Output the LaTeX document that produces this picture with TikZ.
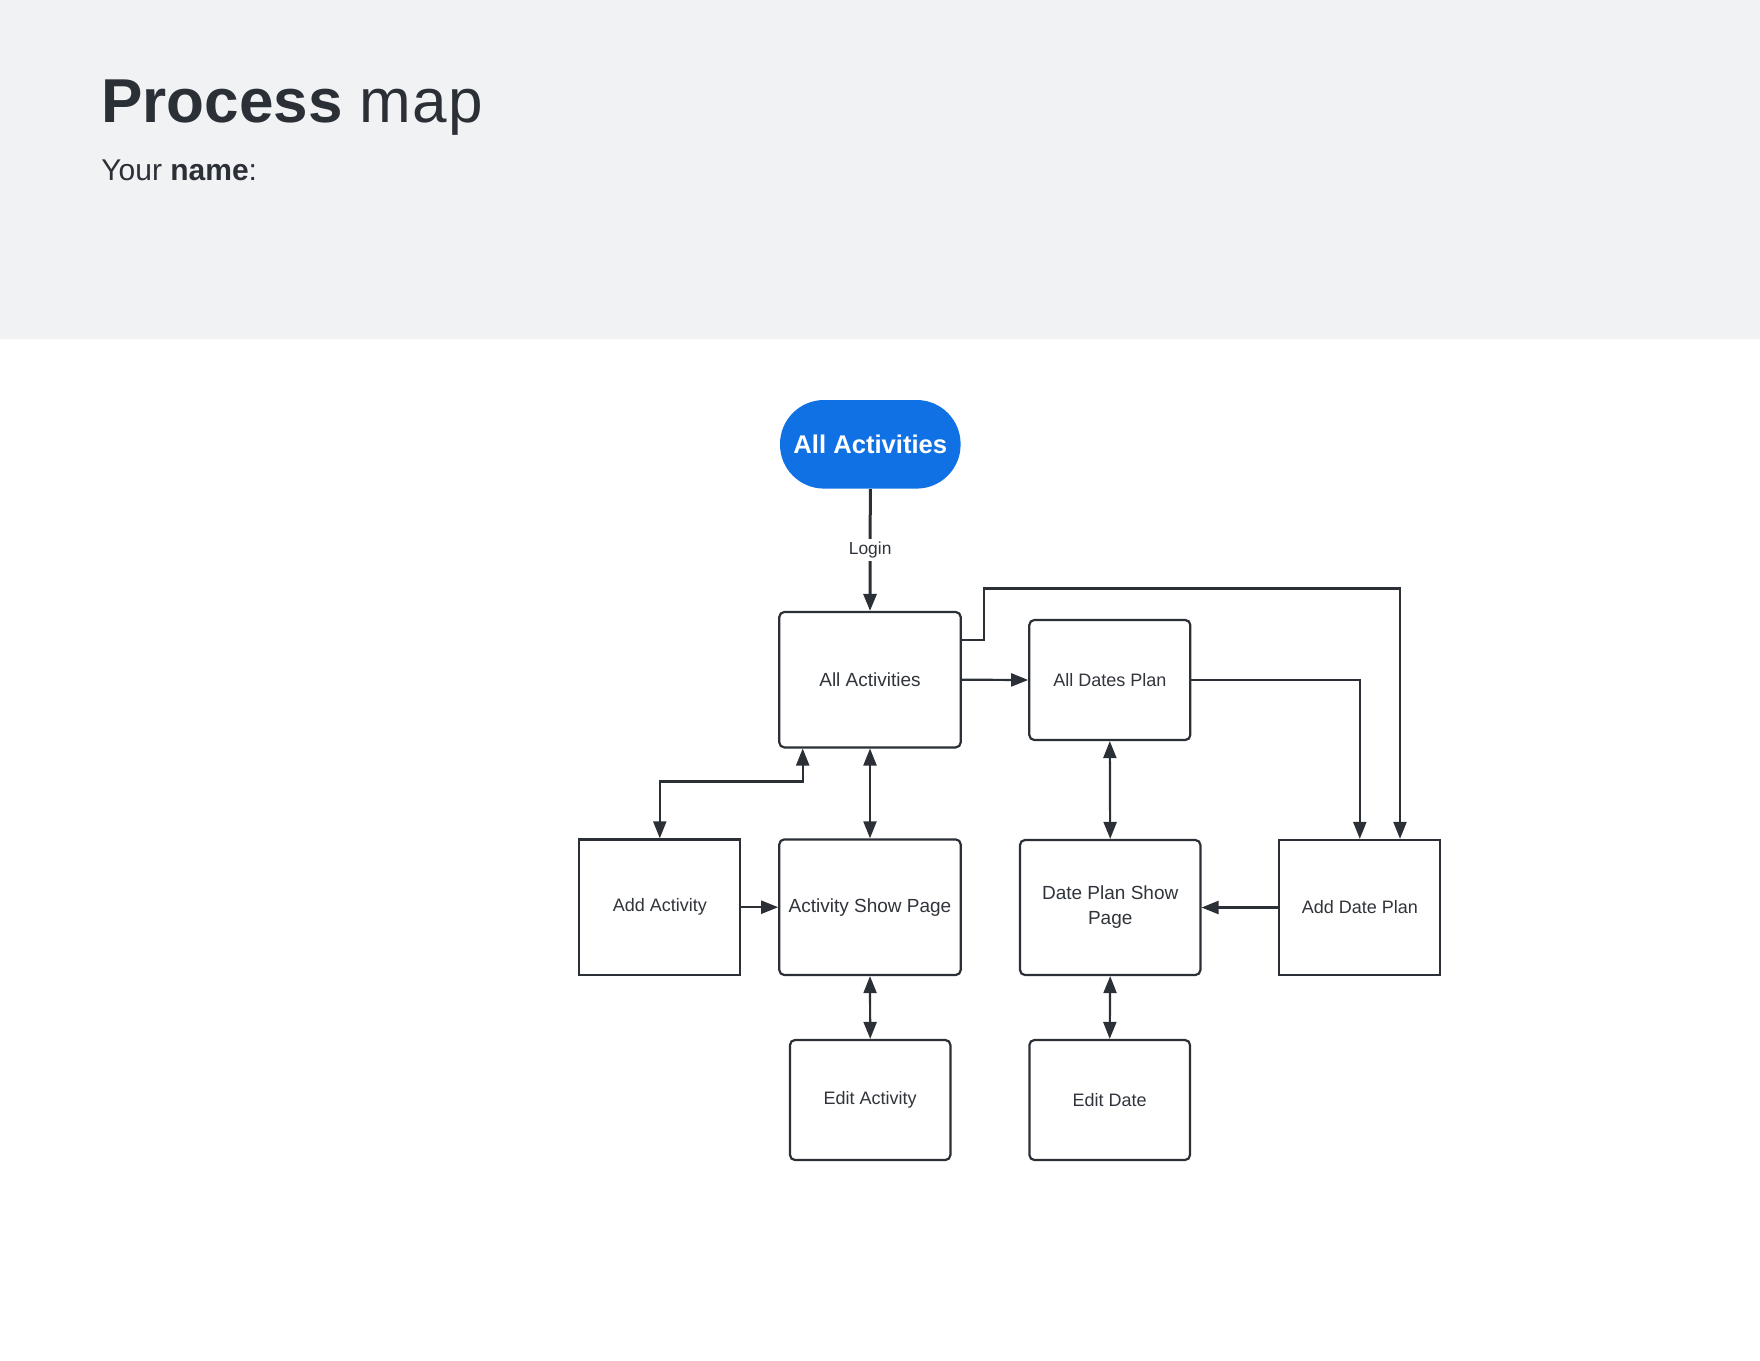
\documentclass[tikz,border=0pt]{standalone}
\usepackage{fontspec}
\setmainfont{Liberation Sans}
\usetikzlibrary{arrows.meta,calc}
\definecolor{headbg}{HTML}{F1F2F4}
\definecolor{ink}{HTML}{2B2F36}
\definecolor{txt}{HTML}{30343B}
\definecolor{pillblue}{HTML}{1071E5}
\begin{document}
\begin{tikzpicture}[x=0.5pt,y=-0.5pt,
  every node/.style={text=txt},
  box/.style={draw=ink,line width=1.1pt,fill=white,align=center,inner sep=2pt,
    font=\fontsize{9}{11}\selectfont},
  rbox/.style={box,rounded corners=2.5pt},
  pill/.style={fill=pillblue,rounded corners=22pt,text=white,
    font=\fontsize{12.8}{15}\selectfont\bfseries,
    minimum width=90.3pt,minimum height=44.3pt,inner sep=0pt},
  link/.style={draw=ink,line width=1.1pt,-{Triangle[length=8.5pt,width=6.5pt]}},
  twoway/.style={draw=ink,line width=1.1pt,
    {Triangle[length=8.5pt,width=6.5pt]}-{Triangle[length=8.5pt,width=6.5pt]}},
]
\useasboundingbox (0,0) rectangle (1760,1360);
% header band
\fill[headbg] (0,0) rectangle (1760,339);
\node[anchor=base west,inner sep=0pt,text=ink,font=\fontsize{31}{36}\selectfont]
  (title) at (101,122) {\textbf{Process} m\kern0.5pt a\kern0.5pt p};
\node[anchor=base west,inner sep=0pt,text=ink,font=\fontsize{15}{18}\selectfont]
  (who) at (101,180) {Your \textbf{name}:};

% nodes
\node[pill] (start) at (870.3,444.3) {All Activities};
\node[rbox,minimum width=90.7pt,minimum height=67.7pt,font=\fontsize{9.5}{11}\selectfont]
  (allact) at (870,679.7) {All Activities};
\node[box,minimum width=80.5pt,minimum height=67.8pt] (addact) at (659.8,907.2) {Add Activity};
\node[rbox,minimum width=90.7pt,minimum height=67.8pt,font=\fontsize{9.5}{11}\selectfont]
  (showpage) at (870,907.2) {Activity Show Page};
\node[rbox,minimum width=80.5pt,minimum height=60pt] (alldates) at (1109.8,680) {All Dates Plan};
\node[rbox,minimum width=90.2pt,minimum height=67.5pt,font=\fontsize{9.5}{12.5}\selectfont]
  (dpshow) at (1110.2,907.5) {Date Plan Show\\Page};
\node[box,minimum width=80.5pt,minimum height=67.5pt] (adddate) at (1359.8,907.5) {Add Date Plan};
\node[rbox,minimum width=80.2pt,minimum height=60pt] (editact) at (870.2,1100) {Edit Activity};
\node[rbox,minimum width=80.3pt,minimum height=60pt] (editdate) at (1109.7,1100) {Edit Date};

% connectors
\draw[link,line width=1.5pt] (start.south) -- node[fill=white,inner sep=1.5pt,font=\fontsize{8.7}{10}\selectfont]{Login} (allact.north);
\draw[twoway] ([xshift=-33.65pt]allact.south) -- ++(0,33) -| (addact.north);
\draw[twoway] (allact.south) -- (showpage.north);
\draw[link] (addact.east) -- (showpage.west);
\draw[twoway] (showpage.south) -- (editact.north);
\draw[link] (allact.east) -- (alldates.west);
\draw[link] ([yshift=19.85pt]allact.east) -- ++(22,0) |- ([xshift=20.1pt,yshift=125.25pt]adddate.north) -- ([xshift=20.1pt]adddate.north);
\draw[link] (alldates.east) -| (adddate.north);
\draw[twoway] (alldates.south) -- (dpshow.north);
\draw[link] (adddate.west) -- (dpshow.east);
\draw[twoway] (dpshow.south) -- (editdate.north);
\end{tikzpicture}
\end{document}
